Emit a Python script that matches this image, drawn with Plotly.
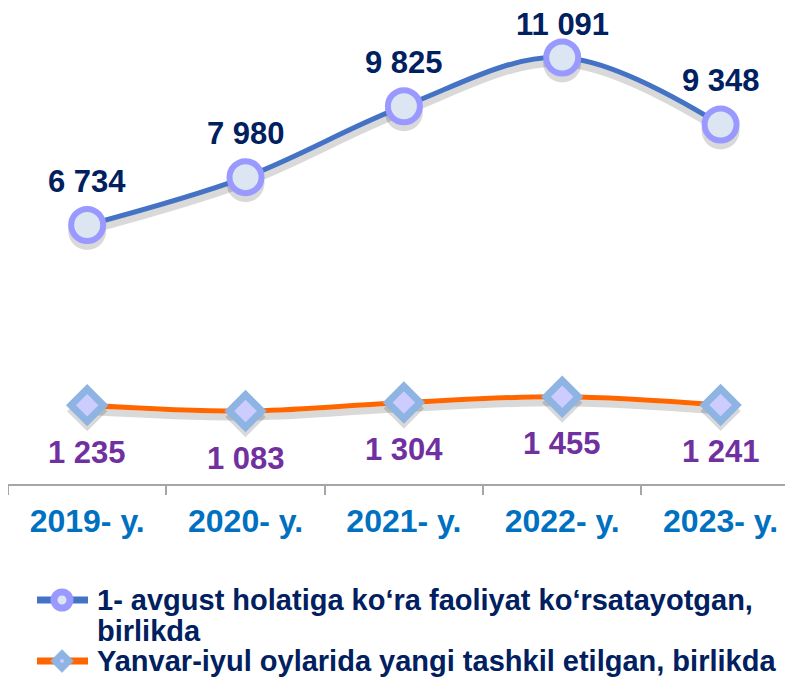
import plotly.graph_objects as go

# ---- data ----
categories = ["2019- y.", "2020- y.", "2021- y.", "2022- y.", "2023- y."]
active_units = [6734, 7980, 9825, 11091, 9348]
new_units = [1235, 1083, 1304, 1455, 1241]
series_names = [
    "1- avgust holatiga ko‘ra faoliyat ko‘rsatayotgan, birlikda",
    "Yanvar-iyul oylarida yangi tashkil etilgan, birlikda",
]
legend_lines = [
    ["1- avgust holatiga ko‘ra faoliyat ko‘rsatayotgan,", "birlikda"],
    ["Yanvar-iyul oylarida yangi tashkil etilgan, birlikda"],
]

def fmt(v):
    return f"{v:,}".replace(",", " ")

# ---- geometry / style ----
PAGE_OFF = 8                      # default body margin of the html page
W, H = 793 - PAGE_OFF, 677 - PAGE_OFF
ML, MR, MT, MB = 0, 0, 0, 193
PW, PH = W - ML - MR, H - MT - MB
CAT_PX = 158.35
SCALE = 0.038454                  # px per unit on both value axes
x_range = [-0.5, -0.5 + PW / CAT_PX]
y1_range = [0, PH / SCALE]
y2_range = [-815, -815 + PH / SCALE]

def shifted(rng, px_down):
    d = px_down / SCALE
    return [rng[0] + d, rng[1] + d]

def px_x(page_x):
    return (page_x - PAGE_OFF - ML) / PW

def px_y(page_y):
    return (MT + PH - (page_y - PAGE_OFF)) / PH

FONT = "Arial, Liberation Sans, sans-serif"
BLUE = "#4472c4"
ORANGE = "#ff6600"
SHADOW = "rgba(0,0,0,0.15)"
NAVY = "#002060"

fig = go.Figure()

# shadows (drawn on the lower layers)
fig.add_trace(go.Scatter(x=categories, y=active_units, yaxis="y",
                         mode="lines+markers", line=dict(color=SHADOW, width=7, shape="spline", smoothing=1),
                         marker=dict(size=38, color=SHADOW), showlegend=False, hoverinfo="skip"))
fig.add_trace(go.Scatter(x=categories, y=new_units, yaxis="y2",
                         mode="lines+markers", line=dict(color=SHADOW, width=7, shape="spline", smoothing=1),
                         marker=dict(size=31, symbol="diamond", color=SHADOW), showlegend=False, hoverinfo="skip"))

# real series
fig.add_trace(go.Scatter(
    x=categories, y=active_units, name=series_names[0], yaxis="y3",
    mode="lines+markers", showlegend=False,
    line=dict(color=BLUE, width=5, shape="spline", smoothing=1),
    marker=dict(size=32, color="#dce6f2", line=dict(color="#9999ff", width=6)),
))
fig.add_trace(go.Scatter(
    x=categories, y=new_units, name=series_names[1], yaxis="y4",
    mode="lines+markers", showlegend=False,
    line=dict(color=ORANGE, width=5, shape="spline", smoothing=1),
    marker=dict(size=25, symbol="diamond", color="#ccccff", line=dict(color="#8db4e2", width=7)),
))

label_shift_top = [44, 44, 44, 33, 44]
annotations = []
for c, v, s in zip(categories, active_units, label_shift_top):
    annotations.append(dict(x=c, y=v, xref="x", yref="y3", text=fmt(v), showarrow=False,
                            yshift=s, font=dict(family=FONT, size=31, color=NAVY, weight="bold")))
for c, v in zip(categories, new_units):
    annotations.append(dict(x=c, y=v, xref="x", yref="y4", text=fmt(v), showarrow=False,
                            yshift=-47, font=dict(family=FONT, size=31, color="#7030a0", weight="bold")))

# ---- legend (drawn by hand to match the tight line spacing) ----
LEG_SYM_X0, LEG_SYM_X1, LEG_SYM_XC = 37, 88, 62
LEG_TEXT_X = 95
LEG_ROW_Y = [[600, 631], [661]]
shapes = []
sym_colors = [BLUE, ORANGE]
for i, lines in enumerate(legend_lines):
    ys = LEG_ROW_Y[i]
    for txt, yy in zip(lines, ys):
        annotations.append(dict(x=px_x(LEG_TEXT_X), y=px_y(yy), xref="paper", yref="paper",
                                xanchor="left", yanchor="middle", text=txt, showarrow=False,
                                font=dict(family=FONT, size=29, color=NAVY, weight="bold")))
    yc = px_y(ys[0])
    shapes.append(dict(type="line", xref="paper", yref="paper", x0=px_x(LEG_SYM_X0), x1=px_x(LEG_SYM_X1),
                       y0=yc, y1=yc, line=dict(color=sym_colors[i], width=7), layer="above"))
    if i == 0:
        shapes.append(dict(type="circle", xref="paper", yref="paper", xsizemode="pixel", ysizemode="pixel",
                           xanchor=px_x(LEG_SYM_XC), yanchor=yc, x0=-8, x1=8, y0=-8, y1=8,
                           fillcolor="#dce6f2", line=dict(color="#9999ff", width=7), layer="above"))
    else:
        shapes.append(dict(type="path", xref="paper", yref="paper", xsizemode="pixel", ysizemode="pixel",
                           xanchor=px_x(LEG_SYM_XC), yanchor=yc,
                           path="M 0,-11.5 L 11.5,0 L 0,11.5 L -11.5,0 Z",
                           fillcolor="#8db4e2", line=dict(color="#8db4e2", width=0.5), layer="above"))
        shapes.append(dict(type="circle", xref="paper", yref="paper", xsizemode="pixel", ysizemode="pixel",
                           xanchor=px_x(LEG_SYM_XC), yanchor=yc, x0=-2, x1=2, y0=-2, y1=2,
                           fillcolor="#ccccff", line=dict(width=0), layer="above"))

fig.update_layout(
    width=W, height=H,
    margin=dict(l=ML, r=MR, t=MT, b=MB, pad=0),
    paper_bgcolor="white", plot_bgcolor="white",
    font=dict(family=FONT),
    xaxis=dict(type="category", range=x_range, showgrid=False, zeroline=False,
               showline=True, linecolor="#a6a6a6", linewidth=1.5,
               ticks="outside", tickson="boundaries", ticklen=9, tickcolor="#a6a6a6", tickwidth=1.5,
               tickfont=dict(family=FONT, size=32, color="#0070c0", weight="bold"),
               ticklabelstandoff=8),
    yaxis=dict(range=shifted(y1_range, 6), visible=False),
    yaxis2=dict(range=shifted(y2_range, 6), overlaying="y", visible=False),
    yaxis3=dict(range=y1_range, overlaying="y", visible=False),
    yaxis4=dict(range=y2_range, overlaying="y", visible=False),
    annotations=annotations,
    shapes=shapes,
    showlegend=False,
)

fig.write_html("out.html")
